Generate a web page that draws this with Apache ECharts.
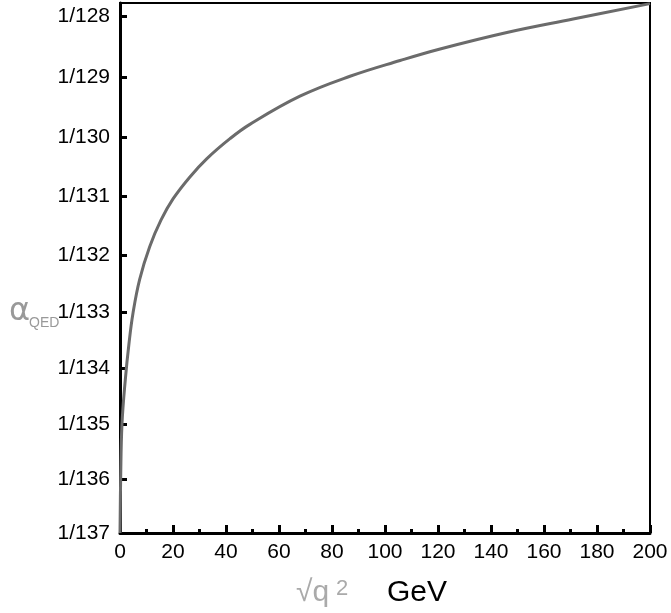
<!DOCTYPE html>
<html>
<head>
<meta charset="utf-8">
<script src="https://cdn.jsdelivr.net/npm/echarts@6/dist/echarts.min.js"></script>
<style>
  html, body { margin: 0; padding: 0; background: #fff; }
  #main { width: 671px; height: 613px; }
</style>
</head>
<body>
<div id="main"></div>
<script>
// sqrt(q^2) in GeV
var energy = [0, 0.25, 0.75, 2.0, 3.4, 4.9, 7.4, 11.2, 15.5, 20, 26.3, 32.7, 41.5, 49, 67.9, 86.8, 105.7, 120.8, 146, 171, 200];
// 1/alpha at each point
var invAlpha = [137, 136, 135, 134.2, 133.55, 133.02, 132.43, 131.86, 131.4, 131.04, 130.67, 130.36, 130.02, 129.78, 129.31, 128.98, 128.72, 128.53, 128.26, 128.04, 127.79];
// y tick labels (1/n)
var yTicks = [137, 136, 135, 134, 133, 132, 131, 130, 129, 128];

var chart = echarts.init(document.getElementById('main'));

var pts = [];
for (var i = 0; i < energy.length; i++) {
  pts.push([energy[i], 1 / invAlpha[i]]);
}
var tickVals = yTicks.map(function (n) { return 1 / n; });

chart.setOption({
  animation: false,
  grid: {
    left: 120, right: 21, top: 3, bottom: 80,
    show: true, borderColor: '#000', borderWidth: 2
  },
  xAxis: {
    type: 'value',
    min: 0, max: 200, interval: 20,
    splitLine: { show: false },
    axisLine: { lineStyle: { color: '#000', width: 3 } },
    axisTick: { inside: true, length: 8, lineStyle: { color: '#000', width: 3 } },
    minorTick: { show: true, splitNumber: 2, length: 4, lineStyle: { color: '#000', width: 3 } },
    axisLabel: { color: '#000', fontSize: 21, fontFamily: 'Liberation Sans', margin: 9 }
  },
  yAxis: {
    type: 'value',
    min: 1 / 137, max: 1 / 127.78,
    splitLine: { show: false },
    axisLine: { lineStyle: { color: '#000', width: 3 } },
    axisTick: { inside: true, length: 7, customValues: tickVals, lineStyle: { color: '#000', width: 3 } },
    axisLabel: {
      customValues: tickVals,
      color: '#000', fontSize: 21, fontFamily: 'Liberation Sans', margin: 10,
      formatter: function (v) { return '1/' + Math.round(1 / v); }
    }
  },
  graphic: [
    {
      type: 'text', left: 9, top: 296,
      style: { text: 'α', fontSize: 32, fill: '#999', fontFamily: 'DejaVu Sans' }
    },
    {
      type: 'text', left: 29, top: 316,
      style: { text: 'QED', fontSize: 14, fill: '#999', fontFamily: 'Liberation Sans' }
    },
    {
      type: 'text', left: 296, top: 578,
      style: { text: '√q', fontSize: 30, fill: '#aaa', fontFamily: 'Liberation Sans' }
    },
    {
      type: 'text', left: 336, top: 578,
      style: { text: '2', fontSize: 22, fill: '#aaa', fontFamily: 'Liberation Sans' }
    },
    {
      type: 'text', left: 387, top: 578,
      style: { text: 'GeV', fontSize: 30, fill: '#000', fontFamily: 'Liberation Sans' }
    }
  ],
  series: [{
    type: 'line',
    data: pts,
    smooth: 0.4,
    symbol: 'none',
    lineStyle: { color: '#6b6b6b', width: 3 }
  }]
});
</script>
</body>
</html>
